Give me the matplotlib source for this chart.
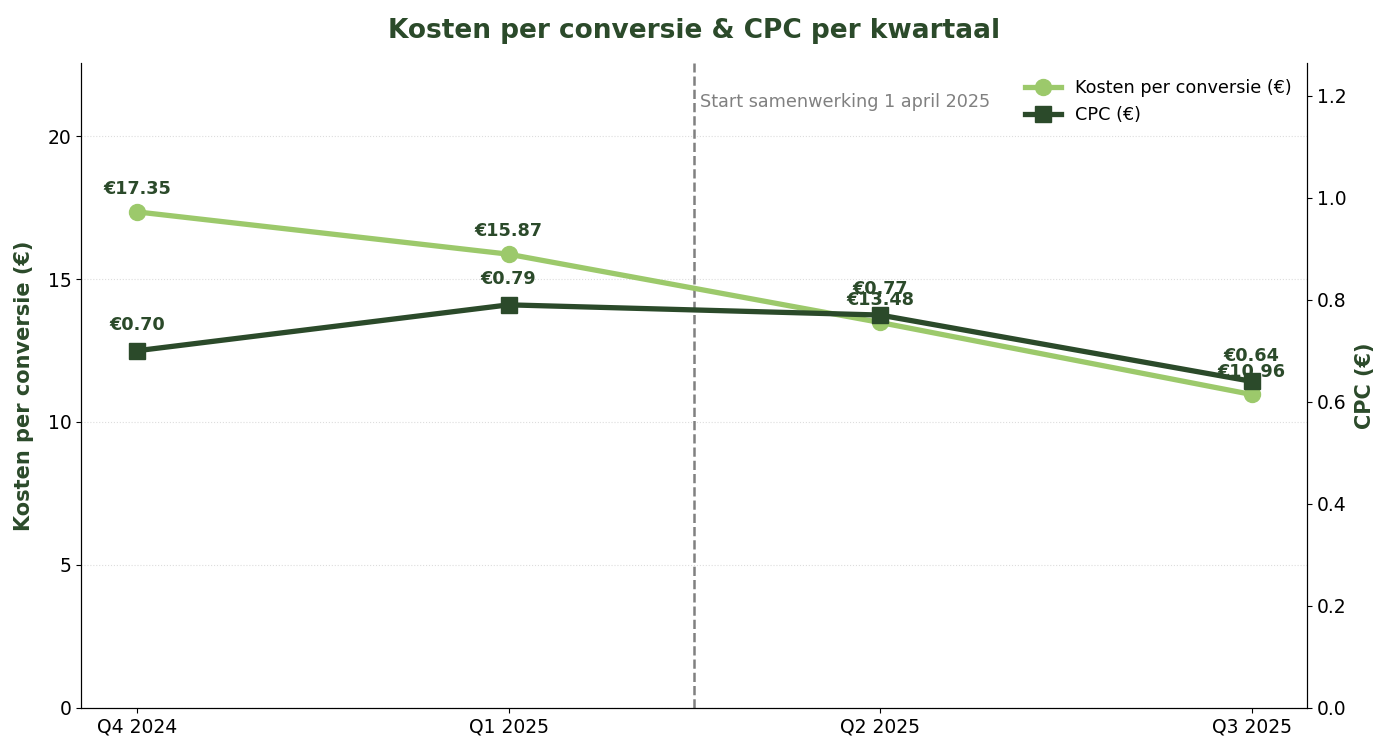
import matplotlib.pyplot as plt

# quarterly data
kwartalen = ['Q4 2024', 'Q1 2025', 'Q2 2025', 'Q3 2025']
kosten_per_conversie = [17.35, 15.87, 13.48, 10.96]
cpc = [0.70, 0.79, 0.77, 0.64]

licht_groen = '#9CC96B'
donker_groen = '#2B4A2A'

fig, ax = plt.subplots(figsize=(13.79, 7.52), dpi=100)
ax2 = ax.twinx()

x = list(range(len(kwartalen)))

l1, = ax.plot(x, kosten_per_conversie, color=licht_groen, marker='o', linewidth=3.8,
              markersize=11.5, label='Kosten per conversie (€)', zorder=3)
l2, = ax2.plot(x, cpc, color=donker_groen, marker='s', linewidth=3.8,
               markersize=11.5, label='CPC (€)', zorder=3)

for xi, v in zip(x, kosten_per_conversie):
    ax.annotate(f'€{v:.2f}', (xi, v), xytext=(0, 10), textcoords='offset points',
                ha='center', va='bottom', fontsize=12.7, fontweight='bold', color=donker_groen)
for xi, v in zip(x, cpc):
    ax2.annotate(f'€{v:.2f}', (xi, v), xytext=(0, 12), textcoords='offset points',
                 ha='center', va='bottom', fontsize=12.7, fontweight='bold', color=donker_groen)

ax.set_ylim(0, max(kosten_per_conversie) * 1.3)
ax2.set_ylim(0, max(cpc) * 1.6)

# start of the collaboration
ax.axvline(1.5, color='gray', linestyle='--', linewidth=1.8)
ax.text(1.515, 21.2, 'Start samenwerking 1 april 2025', color='gray', fontsize=12.7,
        va='center', ha='left')

ax.set_xticks(x)
ax.set_xticklabels(kwartalen)
ax.tick_params(labelsize=13.5)
ax2.tick_params(labelsize=13.5)

ax.set_ylabel('Kosten per conversie (€)', fontsize=15, fontweight='bold', color=donker_groen,
              labelpad=10)
ax2.set_ylabel('CPC (€)', fontsize=15, fontweight='bold', color=donker_groen, labelpad=6)
ax.set_title('Kosten per conversie & CPC per kwartaal', fontsize=19, fontweight='bold',
             color=donker_groen, pad=18)

ax.grid(axis='y', linestyle=':', color='#dddddd', linewidth=0.8)
ax.set_axisbelow(True)
ax.spines['top'].set_visible(False)
ax2.spines['top'].set_visible(False)

ax.legend(handles=[l1, l2], loc='upper right', frameon=False, fontsize=12.7,
          borderaxespad=0.5)

fig.subplots_adjust(left=0.059, right=0.948, top=0.916, bottom=0.059)
fig.savefig('out.png', dpi=100)
